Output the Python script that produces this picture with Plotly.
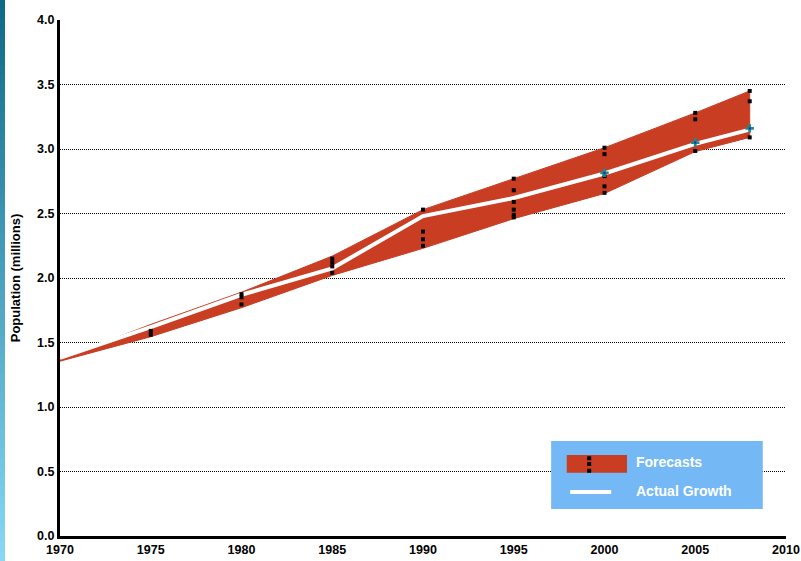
import plotly.graph_objects as go

# 予測レンジ（上限・下限）と実績
years = [1970, 1975, 1980, 1985, 1990, 1995, 2000, 2005, 2008]
band_upper = [1.37, 1.64, 1.89, 2.17, 2.53, 2.77, 3.01, 3.28, 3.45]
band_lower = [1.355, 1.545, 1.77, 2.02, 2.23, 2.46, 2.655, 2.98, 3.09]
actual = [1.38, 1.62, 1.87, 2.075, 2.48, 2.62, 2.81, 3.04, 3.15]

# 個別の予測値
forecast_years = (
    [1975] * 2 + [1980] * 3 + [1985] * 4 + [1990] * 4
    + [1995] * 6 + [2000] * 5 + [2005] * 3 + [2008] * 3
)
forecast_values = [
    1.59, 1.56,
    1.875, 1.85, 1.795,
    2.15, 2.12, 2.09, 2.04,
    2.53, 2.36, 2.30, 2.25,
    2.77, 2.68, 2.59, 2.53, 2.49, 2.47,
    3.01, 2.96, 2.79, 2.71, 2.66,
    3.28, 3.23, 2.985,
    3.45, 3.37, 3.09,
]

# 実績の観測点
obs_years = [2000, 2005, 2008]
obs_values = [2.815, 3.05, 3.16]

x_ticks = [1970, 1975, 1980, 1985, 1990, 1995, 2000, 2005, 2010]
y_ticks = [0.0, 0.5, 1.0, 1.5, 2.0, 2.5, 3.0, 3.5, 4.0]

RED = "#C93D23"
FONT = "Liberation Sans"

fig = go.Figure()

# 予測レンジの帯
fig.add_trace(go.Scatter(
    x=years + years[::-1],
    y=band_upper + band_lower[::-1],
    fill="toself",
    fillcolor=RED,
    line=dict(color=RED, width=1),
    mode="lines",
    hoverinfo="skip",
    showlegend=False,
))

# 実績（白線）
fig.add_trace(go.Scatter(
    x=years, y=actual,
    mode="lines",
    line=dict(color="white", width=4),
    showlegend=False,
    cliponaxis=False,
))

# 予測値マーカー
fig.add_trace(go.Scatter(
    x=forecast_years, y=forecast_values,
    mode="markers",
    marker=dict(symbol="square", size=4, color="black"),
    showlegend=False,
))

# 観測点
fig.add_trace(go.Scatter(
    x=obs_years, y=obs_values,
    mode="markers",
    marker=dict(symbol="cross", size=7, color="#1B8C8C",
                line=dict(width=0)),
    showlegend=False,
))
fig.add_trace(go.Scatter(
    x=obs_years, y=obs_values,
    mode="markers",
    marker=dict(symbol="square", size=2, color="#2020E0"),
    showlegend=False,
))

shapes = []

# 左端のグラデーション帯
n = 60
top_c = (15, 106, 135)
bot_c = (134, 216, 246)
y_lo, y_hi = -25 / 516, 1 + 20 / 516
for i in range(n):
    t = i / (n - 1)
    c = tuple(int(round(top_c[k] + (bot_c[k] - top_c[k]) * t)) for k in range(3))
    y1 = y_hi - (y_hi - y_lo) * i / n
    y0 = y_hi - (y_hi - y_lo) * (i + 1) / n
    shapes.append(dict(
        type="rect", xref="paper", yref="paper",
        xsizemode="pixel", xanchor=0, x0=-60, x1=-55,
        y0=y0 - 0.001, y1=y1 + 0.001,
        fillcolor="rgb(%d,%d,%d)" % c, line=dict(width=0), layer="below",
    ))

# 凡例（手描き）
shapes.append(dict(type="rect", xref="paper", yref="paper",
                   x0=0.6765, x1=0.968, y0=0.0523, y1=0.184,
                   fillcolor="#74B8F5", line=dict(width=0)))
shapes.append(dict(type="rect", xref="paper", yref="paper",
                   x0=0.698, x1=0.781, y0=0.1227, y1=0.157,
                   fillcolor=RED, line=dict(width=0)))
for yy in [0.1506, 0.1395, 0.1265]:
    shapes.append(dict(type="rect", xref="paper", yref="paper",
                       xsizemode="pixel", ysizemode="pixel",
                       xanchor=0.7289, yanchor=yy,
                       x0=-2, x1=2, y0=-2, y1=2,
                       fillcolor="black", line=dict(width=0)))
shapes.append(dict(type="line", xref="paper", yref="paper",
                   x0=0.7028, x1=0.7592, y0=0.0853, y1=0.0853,
                   line=dict(color="white", width=4)))

annotations = [
    dict(text="<b>Forecasts</b>", x=0.791, y=0.144, xref="paper", yref="paper",
         xanchor="left", yanchor="middle", showarrow=False,
         font=dict(family=FONT, size=14, color="white")),
    dict(text="<b>Actual Growth</b>", x=0.791, y=0.0872, xref="paper", yref="paper",
         xanchor="left", yanchor="middle", showarrow=False,
         font=dict(family=FONT, size=14, color="white")),
]

fig.update_layout(
    width=801, height=561,
    margin=dict(l=60, r=15, t=20, b=25),
    paper_bgcolor="white",
    plot_bgcolor="white",
    showlegend=False,
    shapes=shapes,
    annotations=annotations,
    font=dict(family=FONT, size=12, color="black"),
    xaxis=dict(
        range=[1970, 2010],
        tickmode="array",
        tickvals=x_ticks,
        ticktext=["<b>%d</b>" % v for v in x_ticks],
        showgrid=False,
        zeroline=False,
        showline=True, linecolor="black", linewidth=3,
        ticks="",
        automargin=False,
        layer="below traces",
        tickfont=dict(family=FONT, size=12.5, color="black"),
    ),
    yaxis=dict(
        range=[0, 4],
        tickmode="array",
        tickvals=y_ticks,
        ticktext=["<b>%.1f</b>" % v for v in y_ticks],
        showgrid=True, gridcolor="black", gridwidth=1, griddash="1px,1px",
        zeroline=False,
        showline=True, linecolor="black", linewidth=3,
        ticks="",
        automargin=False,
        layer="below traces",
        tickfont=dict(family=FONT, size=12.5, color="black"),
        title=dict(text="<b>Population (millions)</b>", standoff=14,
                   font=dict(family=FONT, size=13, color="black")),
    ),
)

# ページ余白をなくして図を左上に合わせる
fig.write_html("out.html", config={"displayModeBar": False},
               post_script="document.body.style.margin='0';")
